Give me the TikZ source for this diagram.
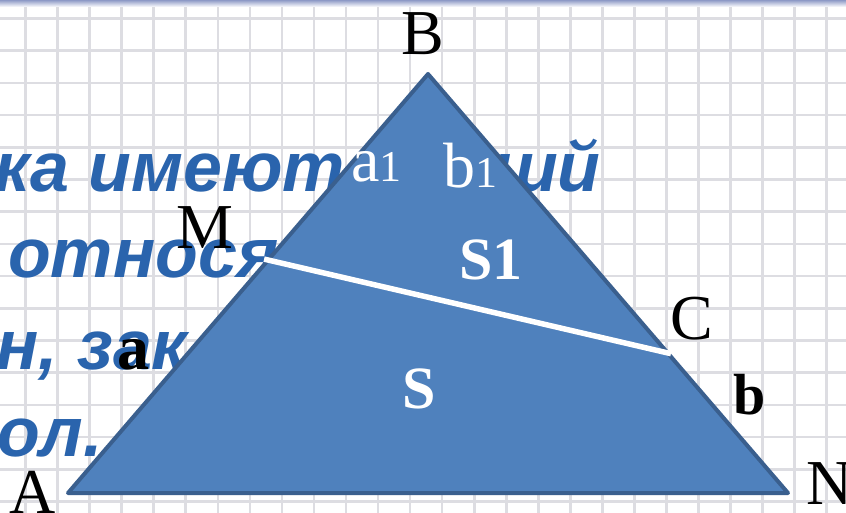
\documentclass[tikz,border=0pt]{standalone}
\usepackage{fontspec}
\setmainfont{Liberation Serif}
\newfontfamily\rusfont{Liberation Sans}
\usepackage{tikz}
\usetikzlibrary{calc}
\definecolor{TriFill}{HTML}{4F81BD}
\definecolor{TriEdge}{HTML}{3A5F8E}
\definecolor{RuleBlue}{HTML}{2A64AD}
\definecolor{GridGray}{HTML}{DDDDE2}
\definecolor{TopBand}{HTML}{8D99C6}

\begin{document}
\begin{tikzpicture}[x=1pt,y=-1pt,
  gridline/.style={GridGray,line width=2.6pt},
  ruleline/.style={anchor=base west,inner sep=0pt,RuleBlue,
    font=\rusfont\bfseries\itshape\fontsize{70}{70}\selectfont},
  vlabel/.style={inner sep=0pt,font=\fontsize{64}{64}\selectfont},
  sidelabel/.style={inner sep=0pt,anchor=base west},
  arealabel/.style={inner sep=0pt,white,font=\bfseries\fontsize{60}{60}\selectfont}]
  \useasboundingbox (0,0) rectangle (846,513);
  \clip (0,0) rectangle (846,513);
  \fill[white] (0,0) rectangle (846,513);
  \foreach \i in {0,...,26}
    \draw[gridline] ({25.5+32.05*\i},0) -- ++(0,513);
  \foreach \j in {0,...,15}
    \draw[gridline] (0,{18.5+32.2*\j}) -- ++(846,0);
  \shade[top color=TopBand,bottom color=white] (0,0) rectangle (846,7);

  \node[ruleline] (r1) at (-6,192) {ка имеют общий};
  \node[ruleline] (r2) at (8,277) {относятся};
  \node[ruleline] (r3) at (-4,369) {н, заключающих};
  \node[ruleline] (r4) at (-3,456) {ол.};

  \coordinate (A) at (68,493);
  \coordinate (B) at (428,74);
  \coordinate (N) at (788,493);
  \coordinate (M) at (268,260);
  \coordinate (C) at (668,353);
  \filldraw[fill=TriFill,draw=TriEdge,line width=4pt,line join=round]
    (A) -- (B) -- (N) -- cycle;
  \draw[white,line width=5.5pt,shorten <=-4pt,shorten >=-3pt] (M) -- (C);

  \node[vlabel,anchor=base] (lA) at (33,513) {A};
  \node[vlabel,anchor=base] (lB) at (423,55) {B};
  \node[vlabel,anchor=base] (lM) at (205,248) {M};
  \node[vlabel,anchor=base] (lC) at (692,339) {C};
  \node[vlabel,anchor=base west] (lN) at (806,504) {N};
  \node[sidelabel,white,font=\fontsize{64}{64}\selectfont] (la1) at (351,182)
    {a{\fontsize{44}{44}\selectfont 1}};
  \node[sidelabel,white,font=\fontsize{64}{64}\selectfont] (lb1) at (443,188)
    {b{\fontsize{44}{44}\selectfont 1}};
  \node[sidelabel,font=\bfseries\fontsize{64}{64}\selectfont] (la) at (117,369) {a};
  \node[sidelabel,font=\bfseries\fontsize{58}{58}\selectfont] (lb) at (733,414) {b};
  \node[arealabel,anchor=base west] (lS1) at (459,279) {S1};
  \node[arealabel,anchor=base] (lS) at (419,408) {S};
\end{tikzpicture}
\end{document}
